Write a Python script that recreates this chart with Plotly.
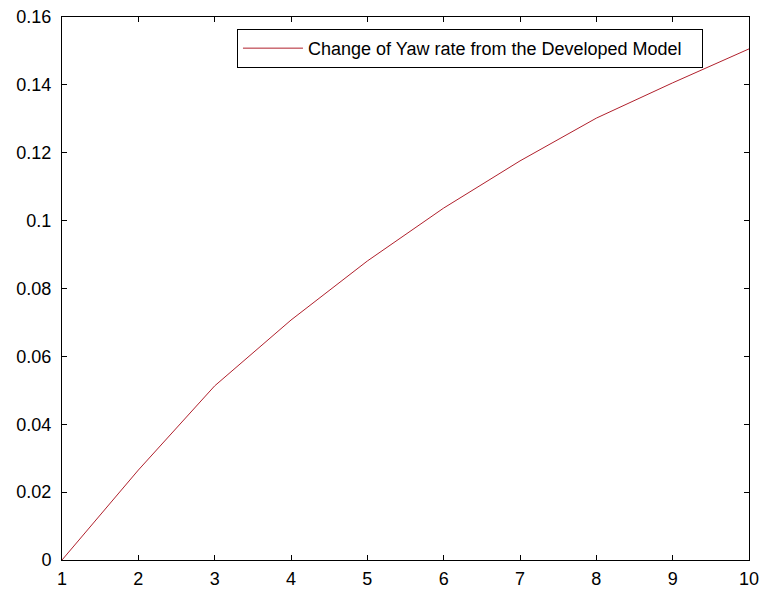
import plotly.graph_objects as go

# Yaw-rate change sampled at integer time steps
x_vals = [1, 2, 3, 4, 5, 6, 7, 8, 9, 10]
yaw_change = [0.0, 0.0265, 0.0513, 0.0707, 0.0881, 0.1037, 0.1176, 0.1302, 0.1406, 0.1506]

x_ticks = [1, 2, 3, 4, 5, 6, 7, 8, 9, 10]
y_ticks = [0, 0.02, 0.04, 0.06, 0.08, 0.1, 0.12, 0.14, 0.16]
y_tick_text = ["0", "0.02", "0.04", "0.06", "0.08", "0.1", "0.12", "0.14", "0.16"]

series_name = "Change of Yaw rate from the Developed Model"

FONT = "Liberation Sans, Arial, sans-serif"

fig = go.Figure()
fig.add_trace(go.Scatter(
    x=x_vals, y=yaw_change, mode="lines",
    # non-breaking spaces give the legend box some right-hand padding
    name=series_name + "\u00a0\u00a0\u00a0",
    line=dict(color="#b0202c", width=1),
))

axis_common = dict(
    showgrid=False, zeroline=False, showline=True, linecolor="black", linewidth=1,
    mirror="ticks", ticks="inside", ticklen=5, tickcolor="black",
    tickfont=dict(family=FONT, size=18, color="black"),
)

fig.update_layout(
    width=764, height=594, autosize=False,
    margin=dict(l=62, r=15, t=17, b=34, autoexpand=False),
    paper_bgcolor="white", plot_bgcolor="white",
    xaxis=dict(range=[1, 10], tickvals=x_ticks, ticklabelstandoff=2, **axis_common),
    yaxis=dict(range=[0, 0.16], tickvals=y_ticks, ticktext=y_tick_text,
               ticklabelstandoff=6, **axis_common),
    showlegend=True,
    legend=dict(
        x=0.933, y=0.978, xanchor="right", yanchor="top",
        bordercolor="black", borderwidth=1, bgcolor="white",
        itemwidth=60,
        font=dict(family=FONT, size=18, color="black"),
    ),
)

fig.write_html("out.html")
